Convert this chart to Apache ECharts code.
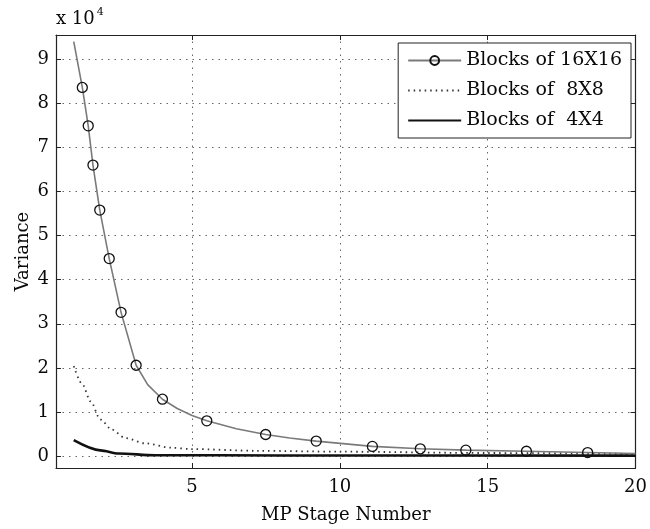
<!DOCTYPE html>
<html>
<head>
<meta charset="utf-8">
<script src="https://cdn.jsdelivr.net/npm/echarts@6/dist/echarts.min.js"></script>
<style>html,body{margin:0;padding:0;background:#fff}#c{width:650px;height:529px}</style>
</head>
<body>
<div id="c"></div>
<script>
// 16x16 curve (markers only where marked16 is true)
var x16 = [1, 1.29, 1.49, 1.65, 1.88, 2.2, 2.6, 3.11, 3.5, 4.0, 4.5, 5.0, 5.5, 6.5, 7.49, 8.3, 9.2, 11.1, 12.72, 14.26, 16.31, 18.38, 20];
var y16 = [94000, 83600, 74900, 66000, 55800, 44800, 32600, 20600, 16200, 12900, 10800, 9200, 8000, 6200, 4900, 4100, 3400, 2200, 1650, 1350, 1100, 800, 600];
var marked16 = [false, true, true, true, true, true, true, true, false, true, false, false, true, false, true, false, true, true, true, true, true, true, false];
// 8x8 curve
var x8 = [1, 1.29, 1.57, 1.9, 2.29, 2.74, 3.41, 4.31, 4.97, 7.2, 10, 15, 20];
var y8 = [20400, 16300, 12400, 8300, 6000, 4100, 2900, 1900, 1600, 1200, 1000, 700, 500];
// 4x4 curve
var x4 = [1, 1.9, 2.52, 3.75, 8, 20];
var y4 = [3600, 1300, 600, 200, 150, 100];
var legendNames = ['Blocks of 16X16', 'Blocks of  8X8', 'Blocks of  4X4'];

function pairs(xs, ys) { return xs.map(function (x, i) { return [x, ys[i]]; }); }
var data16 = x16.map(function (x, i) {
  var it = { value: [x, y16[i]] };
  if (!marked16[i]) it.symbol = 'none';
  return it;
});

var FONT = 'DejaVu Serif';
var TXT = '#0a0a0a';
var chart = echarts.init(document.getElementById('c'), null, { renderer: 'canvas' });
var gridLine = { show: true, lineStyle: { color: '#666', type: [1.5, 5], width: 1 } };
function sideAxis(pos, isX) {
  var a = {
    type: 'value', position: pos,
    axisLine: { show: true, onZero: false, lineStyle: { color: '#222', width: 1.2 } },
    axisTick: { show: true, inside: true, length: 5, lineStyle: { color: '#222' } },
    axisLabel: { show: false }, splitLine: { show: false }
  };
  if (isX) { a.min = 0.4; a.max = 20; a.splitNumber = 4; }
  else { a.min = -2700; a.max = 95500; a.splitNumber = 10; }
  return a;
}
chart.setOption({
  animation: false,
  backgroundColor: '#fff',
  textStyle: { fontFamily: FONT },
  grid: { left: 56, right: 9, top: 35, bottom: 57, containLabel: false },
  xAxis: [{
    type: 'value', min: 0.4, max: 20, splitNumber: 4,
    axisLine: { show: true, onZero: false, lineStyle: { color: '#222', width: 1.2 } },
    axisTick: { show: true, inside: true, length: 5, lineStyle: { color: '#222' } },
    axisLabel: { showMinLabel: false, color: TXT, fontSize: 18, fontFamily: FONT, margin: 10 },
    splitLine: gridLine,
    name: 'MP Stage Number', nameLocation: 'middle', nameGap: 38, nameMoveOverlap: false,
    nameTextStyle: { color: TXT, fontSize: 18, fontFamily: FONT }
  }, sideAxis('top', true)],
  yAxis: [{
    type: 'value', min: -2700, max: 95500, splitNumber: 10,
    axisLine: { show: true, onZero: false, lineStyle: { color: '#222', width: 1.2 } },
    axisTick: { show: true, inside: true, length: 5, lineStyle: { color: '#222' } },
    axisLabel: {
      showMinLabel: false, showMaxLabel: false, color: TXT, fontSize: 18, fontFamily: FONT, margin: 7,
      formatter: function (v) { return String(Math.round(v / 10000)); }
    },
    splitLine: gridLine,
    name: 'Variance', nameLocation: 'middle', nameGap: 24, nameRotate: 90, nameMoveOverlap: false,
    nameTextStyle: { color: TXT, fontSize: 18, fontFamily: FONT }
  }, sideAxis('right', false)],
  legend: {
    orient: 'vertical', right: 19, top: 43,
    backgroundColor: '#fff', borderColor: '#222', borderWidth: 1,
    padding: [8, 9, 8, 9], itemWidth: 53, itemHeight: 11, itemGap: 11,
    textStyle: { color: TXT, fontSize: 19, fontFamily: FONT, lineHeight: 18 },
    data: [
      { name: legendNames[0] },
      { name: legendNames[1], itemStyle: { opacity: 0 } },
      { name: legendNames[2], itemStyle: { opacity: 0 } }
    ]
  },
  graphic: [{
    type: 'text', left: 56, top: 7,
    style: {
      text: '{a|x 10}{b|4}',
      rich: {
        a: { fontFamily: FONT, fontSize: 18, fill: TXT, verticalAlign: 'bottom' },
        b: { fontFamily: FONT, fontSize: 11, fill: TXT, verticalAlign: 'top', padding: [0, 0, 10, 2] }
      }
    }
  }],
  series: [{
    name: legendNames[0], type: 'line', data: data16,
    smooth: false,
    symbol: 'circle', symbolSize: 10, showAllSymbol: true,
    lineStyle: { color: '#7a7a7a', width: 1.6 },
    itemStyle: { color: 'rgba(255,255,255,0)', borderColor: '#111', borderWidth: 1.3 },
    z: 5
  }, {
    name: legendNames[1], type: 'line', data: pairs(x8, y8),
    smooth: 0.3, smoothMonotone: 'x', symbol: 'none',
    lineStyle: { color: '#333', width: 1.8, type: [1.5, 4] },
    itemStyle: { color: '#333' }
  }, {
    name: legendNames[2], type: 'line', data: pairs(x4, y4),
    smooth: 0.3, smoothMonotone: 'x', symbol: 'none',
    lineStyle: { color: '#111', width: 2.6 },
    itemStyle: { color: '#111' }
  }]
});
</script>
</body>
</html>
